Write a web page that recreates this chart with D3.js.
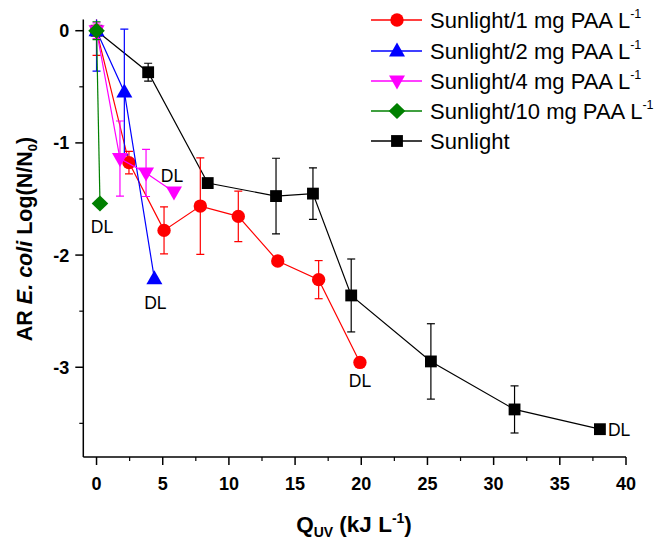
<!DOCTYPE html>
<html>
<head>
<meta charset="utf-8">
<script src="https://cdn.jsdelivr.net/npm/d3@7"></script>
<style>
  html, body { margin: 0; padding: 0; background: #fff; }
  svg { display: block; font-family: "Liberation Sans", Arial, sans-serif; }
</style>
</head>
<body>
<svg id="chart" width="666" height="548"></svg>
<script>
// ---------- data ----------
const xTicks = [0, 5, 10, 15, 20, 25, 30, 35, 40];
const yTicks = [0, -1, -2, -3];

const sunX   = [0, 3.9, 8.4, 13.56, 16.35, 19.24, 25.26, 31.58, 38.03];
const sunY   = [0, -0.37, -1.358, -1.474, -1.452, -2.36, -2.948, -3.376, -3.552];
const sunErr = [0.04, 0.08, 0.03, 0.337, 0.23, 0.325, 0.336, 0.21, 0];

const p1X   = [0, 2.45, 5.10, 7.84, 10.71, 13.69, 16.78, 19.9];
const p1Y   = [0, -1.176, -1.78, -1.563, -1.655, -2.053, -2.219, -2.957];
const p1Err = [0.22, 0.1, 0.21, 0.43, 0.225, 0, 0.17, 0];

const p2X   = [0, 2.10, 4.37];
const p2Y   = [0, -0.546, -2.21];
const p2Err = [0.36, 0.56, 0];

const p4X   = [0, 1.77, 3.74, 5.85];
const p4Y   = [0, -1.14, -1.268, -1.438];
const p4Err = [0.07, 0.335, 0.21, 0];

const p10X   = [0, 0.26];
const p10Y   = [0, -1.54];
const p10Err = [0.08, 0];

const seriesNames = ["Sunlight/1 mg PAA L", "Sunlight/2 mg PAA L", "Sunlight/4 mg PAA L", "Sunlight/10 mg PAA L", "Sunlight"];
const seriesSup   = ["-1", "-1", "-1", "-1", ""];
const seriesColors = ["#ff0000", "#0000ff", "#ff00ff", "#008000", "#000000"];
const seriesShapes = ["circle", "triangle", "triangleDown", "diamond", "square"];

// DL labels: series index, point index
const dlLabels = [
  {s: 0, i: 7, dx: 0,  dy: 25, anchor: "middle"},
  {s: 1, i: 2, dx: 1,  dy: 30, anchor: "middle"},
  {s: 2, i: 3, dx: -2, dy: -10, anchor: "middle"},
  {s: 3, i: 1, dx: 2,  dy: 30, anchor: "middle"},
  {s: 4, i: 8, dx: 8,  dy: 7, anchor: "start"}
];

// ---------- build ----------
const svg = d3.select("#chart");
const x = d3.scaleLinear().domain([-1, 40]).range([83.3, 626]);
const y = d3.scaleLinear().domain([-3.8, 0.1]).range([457, 19.5]);

const series = [
  {x: p1X, y: p1Y, e: p1Err},
  {x: p2X, y: p2Y, e: p2Err},
  {x: p4X, y: p4Y, e: p4Err},
  {x: p10X, y: p10Y, e: p10Err},
  {x: sunX, y: sunY, e: sunErr}
];

svg.append("defs").append("clipPath").attr("id", "clip")
  .append("rect").attr("x", 83.3).attr("y", 19.5).attr("width", 626 - 83.3).attr("height", 457 - 19.5);

const shapePaths = {
  circle: d3.symbol().type(d3.symbolCircle).size(140)(),
  square: d3.symbol().type(d3.symbolSquare).size(140)(),
  triangle: "M0,-8.5L8,5.5L-8,5.5Z",
  triangleDown: "M0,8.5L8,-5.5L-8,-5.5Z",
  diamond: "M0,-8L8.3,0L0,8L-8.3,0Z"
};
function marker(g, shape, color, cx, cy) {
  g.append("path").attr("d", shapePaths[shape]).attr("fill", color)
    .attr("transform", `translate(${cx},${cy})`);
}

// axes
const xAxis = svg.append("g").attr("transform", "translate(0,457)");
xAxis.append("line").attr("x1", 83.3).attr("x2", 626).attr("stroke", "#000").attr("stroke-width", 1.5);
const xMinor = d3.range(2.5, 40, 5);
xTicks.forEach(t => {
  xAxis.append("line").attr("x1", x(t)).attr("x2", x(t)).attr("y1", 0).attr("y2", 8).attr("stroke", "#000").attr("stroke-width", 1.5);
  xAxis.append("text").attr("x", x(t)).attr("y", 33).attr("text-anchor", "middle")
    .attr("font-size", 18).attr("font-weight", "bold").text(t);
});
xMinor.forEach(t => {
  xAxis.append("line").attr("x1", x(t)).attr("x2", x(t)).attr("y1", 0).attr("y2", 4).attr("stroke", "#000").attr("stroke-width", 1.2);
});

const yAxis = svg.append("g").attr("transform", "translate(83.3,0)");
yAxis.append("line").attr("y1", 19.5).attr("y2", 457).attr("stroke", "#000").attr("stroke-width", 1.5);
yTicks.forEach(t => {
  yAxis.append("line").attr("x1", 0).attr("x2", -8).attr("y1", y(t)).attr("y2", y(t)).attr("stroke", "#000").attr("stroke-width", 1.5);
  yAxis.append("text").attr("x", -14).attr("y", y(t) + 6.5).attr("text-anchor", "end")
    .attr("font-size", 18).attr("font-weight", "bold").text(t === 0 ? "0" : "-" + Math.abs(t));
});
[-0.5, -1.5, -2.5, -3.5].forEach(t => {
  yAxis.append("line").attr("x1", 0).attr("x2", -4).attr("y1", y(t)).attr("y2", y(t)).attr("stroke", "#000").attr("stroke-width", 1.2);
});

// axis titles
const xt = svg.append("text").attr("x", 354).attr("y", 532).attr("text-anchor", "middle")
  .attr("font-size", 22.5).attr("font-weight", "bold");
xt.append("tspan").text("Q");
xt.append("tspan").attr("font-size", 14).attr("dy", 5).text("UV");
xt.append("tspan").attr("dy", -5).text(" (kJ L");
xt.append("tspan").attr("font-size", 14).attr("dy", -9).text("-1");
xt.append("tspan").attr("dy", 9).text(")");

const yt = svg.append("text").attr("transform", "translate(32,239) rotate(-90)").attr("text-anchor", "middle")
  .attr("font-size", 21.5).attr("font-weight", "bold");
yt.append("tspan").text("AR ");
yt.append("tspan").attr("font-style", "italic").text("E. coli");
yt.append("tspan").text(" Log(N/N");
yt.append("tspan").attr("font-size", 13).attr("dy", 5).text("0");
yt.append("tspan").attr("dy", -5).text(")");

// series: draw black first, then colored so green ends on top
const order = [4, 0, 1, 2, 3];
const line = d3.line().x(d => x(d[0])).y(d => y(d[1]));
order.forEach(si => {
  const s = series[si];
  const col = seriesColors[si];
  const g = svg.append("g");
  const pts = s.x.map((v, i) => [v, s.y[i]]);
  g.append("path").attr("d", line(pts)).attr("fill", "none").attr("stroke", col).attr("stroke-width", 1.2);
  const eg = g.append("g").attr("clip-path", "url(#clip)");
  pts.forEach((p, i) => {
    const e = s.e[i];
    if (!e) return;
    const cx = x(p[0]), y1 = y(p[1] + e), y2 = y(p[1] - e);
    eg.append("line").attr("x1", cx).attr("x2", cx).attr("y1", y1).attr("y2", y2).attr("stroke", col).attr("stroke-width", 1.2);
    [y1, y2].forEach(yy => eg.append("line").attr("x1", cx - 4).attr("x2", cx + 4).attr("y1", yy).attr("y2", yy).attr("stroke", col).attr("stroke-width", 1.2));
  });
  pts.forEach(p => marker(g, seriesShapes[si], col, x(p[0]), y(p[1])));
});

// DL labels
dlLabels.forEach(d => {
  const s = series[d.s];
  svg.append("text").attr("x", x(s.x[d.i]) + d.dx).attr("y", y(s.y[d.i]) + d.dy)
    .attr("text-anchor", d.anchor).attr("font-size", 17.5).text("DL");
});

// legend
const lg = svg.append("g");
const rowsY = [20, 51, 81, 111, 141];
seriesNames.forEach((name, i) => {
  const yy = rowsY[i];
  lg.append("line").attr("x1", 371).attr("x2", 422).attr("y1", yy).attr("y2", yy)
    .attr("stroke", seriesColors[i]).attr("stroke-width", 1.4);
  marker(lg, seriesShapes[i], seriesColors[i], 397, yy);
  const t = lg.append("text").attr("x", 430).attr("y", yy + 7.5).attr("font-size", 22);
  t.append("tspan").text(name);
  if (seriesSup[i]) t.append("tspan").attr("font-size", 12.5).attr("dy", -10).text(seriesSup[i]);
});
</script>
</body>
</html>
